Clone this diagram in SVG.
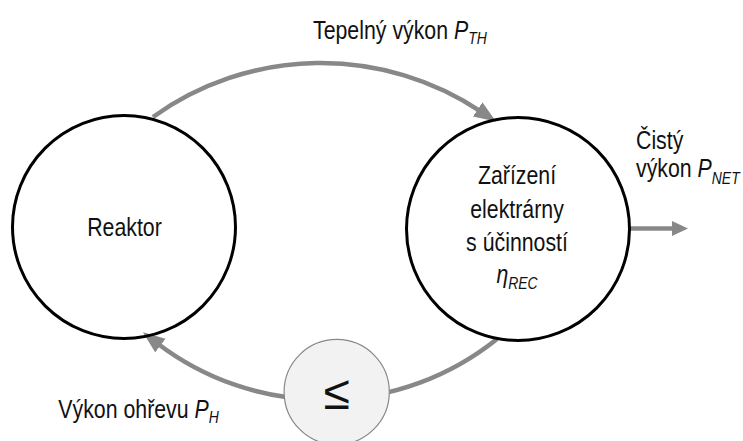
<svg xmlns="http://www.w3.org/2000/svg" width="743" height="441" viewBox="0 0 743 441">
  <style>
    .lbl { font-family: "Liberation Sans", Arial, sans-serif; font-size: 26px; fill: #111; }
    .it { font-style: italic; }
    .sub { font-size: 17px; font-style: italic; }
    .node { fill: none; stroke: #000; stroke-width: 3; }
    .flow { fill: none; stroke: #888; stroke-width: 4.5; }
  </style>
  <defs>
    <marker id="head" markerUnits="userSpaceOnUse" markerWidth="24" markerHeight="18" refX="4" refY="8.5" orient="auto">
      <path d="M0,0 L22,8.5 L0,17 z" fill="#888"/>
    </marker>
    <marker id="headSmall" markerUnits="userSpaceOnUse" markerWidth="18" markerHeight="16" refX="2" refY="7.5" orient="auto">
      <path d="M0,0 L16,7.5 L0,15 z" fill="#888"/>
    </marker>
  </defs>
  <rect width="743" height="441" fill="#fff"/>

  <!-- power flows -->
  <g id="connectors">
    <path class="flow" d="M153,117 A288,288 0 0 1 481,111.6" marker-end="url(#head)"/>
    <path class="flow" d="M497,339 A275.5,275.5 0 0 1 157.2,343.2" marker-end="url(#head)"/>
    <path class="flow" d="M629,228.5 L674,228.5" marker-end="url(#headSmall)"/>
  </g>

  <!-- labels use a condensed look: regular sans squeezed horizontally -->
  <g id="reactor">
    <circle class="node" cx="124" cy="227" r="111.5"/>
    <text class="lbl" transform="translate(124.5,236) scale(0.82,1)" text-anchor="middle">Reaktor</text>
  </g>

  <g id="plant">
    <circle class="node" cx="518" cy="229" r="111.5"/>
    <text class="lbl" transform="translate(517,184.3) scale(0.82,1)" text-anchor="middle">Zařízení</text>
    <text class="lbl" transform="translate(517,218.3) scale(0.82,1)" text-anchor="middle">elektrárny</text>
    <text class="lbl" transform="translate(517,250.5) scale(0.82,1)" text-anchor="middle">s účinností</text>
    <text class="lbl" transform="translate(517,282.7) scale(0.82,1)" text-anchor="middle"><tspan class="it">η</tspan><tspan class="sub" dy="6">REC</tspan></text>
  </g>

  <g id="limiter">
    <circle cx="336.7" cy="392" r="52.6" fill="#f2f2f2" stroke="#888" stroke-width="1.2"/>
    <text x="336.7" y="409" text-anchor="middle" font-family="Liberation Sans, sans-serif" font-size="48" fill="#111">≤</text>
  </g>

  <g id="labels">
    <text class="lbl" transform="translate(313,39.3) scale(0.82,1)">Tepelný výkon <tspan class="it">P</tspan><tspan class="sub" dy="5">TH</tspan></text>
    <text class="lbl" transform="translate(636,149.3) scale(0.82,1)">Čistý</text>
    <text class="lbl" transform="translate(636,176.7) scale(0.82,1)">výkon <tspan class="it">P</tspan><tspan class="sub" dy="7">NET</tspan></text>
    <text class="lbl" transform="translate(58.3,417.7) scale(0.82,1)">Výkon ohřevu <tspan class="it">P</tspan><tspan class="sub" dy="5.5">H</tspan></text>
  </g>
</svg>
